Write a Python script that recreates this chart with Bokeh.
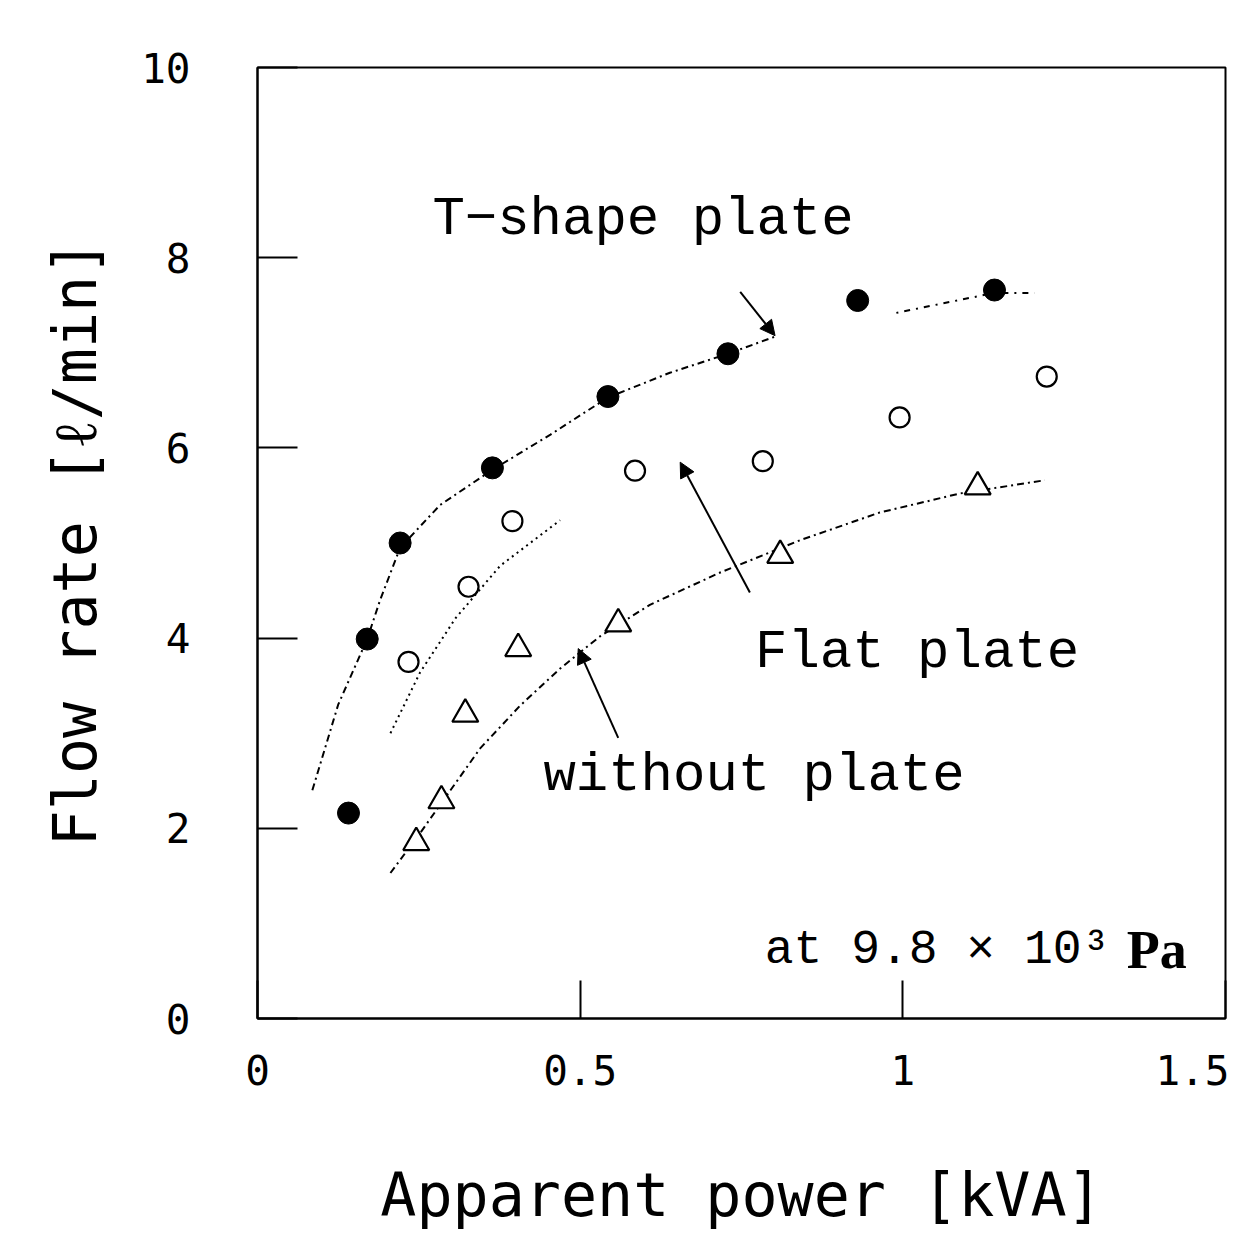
from bokeh.plotting import figure
from bokeh.models import Range1d, FixedTicker, Label, Arrow, NormalHead, ColumnDataSource
from bokeh.embed import file_html
from bokeh.resources import INLINE

# ---- data ----
x_ticks = [0, 0.5, 1, 1.5]
x_tick_labels = ["0", "0.5", "1", "1.5"]
y_ticks = [0, 2, 4, 6, 8, 10]
y_tick_labels = ["0", "2", "4", "6", "8", "10"]

# T-shape plate (filled circles)
t_x = [0.141, 0.170, 0.221, 0.364, 0.543, 0.729, 0.930, 1.142]
t_y = [2.16, 3.99, 5.00, 5.79, 6.54, 6.99, 7.55, 7.66]
# Flat plate (open circles)
f_x = [0.234, 0.327, 0.395, 0.585, 0.783, 0.995, 1.223]
f_y = [3.75, 4.54, 5.23, 5.76, 5.86, 6.32, 6.75]
# without plate (open triangles)
w_x = [0.246, 0.285, 0.322, 0.404, 0.559, 0.810, 1.116]
w_y = [1.85, 2.29, 3.20, 3.89, 4.15, 4.87, 5.59]

# hand-drawn fitted curves
t_curve_x = [0.085, 0.125, 0.170, 0.190, 0.221, 0.283, 0.364, 0.454, 0.543, 0.639, 0.729, 0.802]
t_curve_y = [2.40, 3.30, 3.99, 4.40, 4.95, 5.40, 5.77, 6.14, 6.53, 6.79, 6.99, 7.17]
t_curve2_x = [0.990, 1.142, 1.204]
t_curve2_y = [7.42, 7.63, 7.63]
f_curve_x = [0.206, 0.252, 0.307, 0.376, 0.469]
f_curve_y = [3.00, 3.64, 4.21, 4.76, 5.24]
w_curve_x = [0.206, 0.252, 0.299, 0.345, 0.407, 0.469, 0.531, 0.608, 0.717, 0.841, 0.964, 1.088, 1.220]
w_curve_y = [1.53, 1.95, 2.40, 2.84, 3.29, 3.68, 4.02, 4.35, 4.69, 5.03, 5.32, 5.52, 5.66]

# annotation texts and arrows
note_texts = ["T\u2212shape plate", "Flat plate", "without plate"]
note_x = [0.271, 0.771, 0.443]
note_y = [8.40, 3.85, 2.56]
arrow_x0 = [0.748, 0.763, 0.559]
arrow_y0 = [7.64, 4.48, 2.95]
arrow_x1 = [0.802, 0.655, 0.497]
arrow_y1 = [7.18, 5.85, 3.89]

cond_text = "at 9.8 \u00d7 10\u00b3"
cond_unit = "Pa"
cond_x = [0.786, 1.347]
cond_y = [0.72, 0.72]

p = figure(frame_width=968, frame_height=951,
           x_range=Range1d(0, 1.5), y_range=Range1d(0, 10),
           output_backend="svg", toolbar_location=None,
           min_border_left=257, min_border_top=67, min_border_right=4, min_border_bottom=215)
p.grid.visible = False
p.outline_line_color = "black"
p.outline_line_width = 2
p.background_fill_color = "white"
p.border_fill_color = "white"

tick_font = "DejaVu Sans Mono"
for ax in (p.xaxis[0], p.yaxis[0]):
    ax.axis_line_color = "black"
    ax.axis_line_width = 2
    ax.major_tick_line_color = "black"
    ax.major_tick_line_width = 2
    ax.major_tick_out = 0
    ax.minor_tick_line_color = None
    ax.major_label_text_font = tick_font
    ax.major_label_text_font_size = "41px"
    ax.major_label_text_color = "black"
    ax.axis_label_text_font = tick_font
    ax.axis_label_text_font_size = "60px"
    ax.axis_label_text_font_style = "normal"
    ax.axis_label_text_color = "black"

p.xaxis.ticker = FixedTicker(ticks=x_ticks)
p.xaxis.major_label_overrides = dict(zip(x_ticks, x_tick_labels))
p.xaxis.major_tick_in = 38
p.xaxis.major_label_standoff = 36
p.xaxis.axis_label = "Apparent power [kVA]"
p.xaxis.axis_label_standoff = 72

p.yaxis.ticker = FixedTicker(ticks=y_ticks)
p.yaxis.major_label_overrides = dict(zip(y_ticks, y_tick_labels))
p.yaxis.major_tick_in = 40
p.yaxis.major_label_standoff = 67
p.yaxis.axis_label = "Flow rate [\u2113/min]"
p.yaxis.axis_label_standoff = 28

# curves
dash = "7 4 2 4"
p.line(t_curve_x, t_curve_y, line_color="black", line_width=2, line_dash=dash)
p.line(t_curve2_x, t_curve2_y, line_color="black", line_width=2, line_dash="2 6 6 6")
p.line(f_curve_x, f_curve_y, line_color="black", line_width=2, line_dash="2 4")
p.line(w_curve_x, w_curve_y, line_color="black", line_width=2, line_dash=dash)

# markers
p.scatter(t_x, t_y, marker="circle", size=22, fill_color="black", line_color="black")
p.scatter(f_x, f_y, marker="circle", size=20, fill_color="white", line_color="black", line_width=2.2)
p.scatter(w_x, w_y, marker="triangle", size=26, fill_color="white", line_color="black", line_width=2.2)

# arrows
arr_src = ColumnDataSource(dict(x0=arrow_x0, y0=arrow_y0, x1=arrow_x1, y1=arrow_y1))
p.add_layout(Arrow(end=NormalHead(size=15, fill_color="black", line_color="black", line_width=1),
                   x_start="x0", y_start="y0", x_end="x1", y_end="y1",
                   source=arr_src, line_color="black", line_width=2))

note_font = "Liberation Mono"
for t, x, y in zip(note_texts, note_x, note_y):
    p.add_layout(Label(x=x, y=y, text=t, text_font=note_font, text_font_size="54px",
                       text_baseline="middle", text_align="left", text_color="black"))

p.add_layout(Label(x=cond_x[0], y=cond_y[0], text=cond_text, text_font=note_font,
                   text_font_size="48px", text_baseline="middle", text_color="black"))
p.add_layout(Label(x=cond_x[1], y=cond_y[1], text=cond_unit, text_font="Liberation Serif",
                   text_font_size="54px", text_font_style="bold", text_baseline="middle",
                   text_color="black"))

open("out.html", "w").write(file_html(p, INLINE))
